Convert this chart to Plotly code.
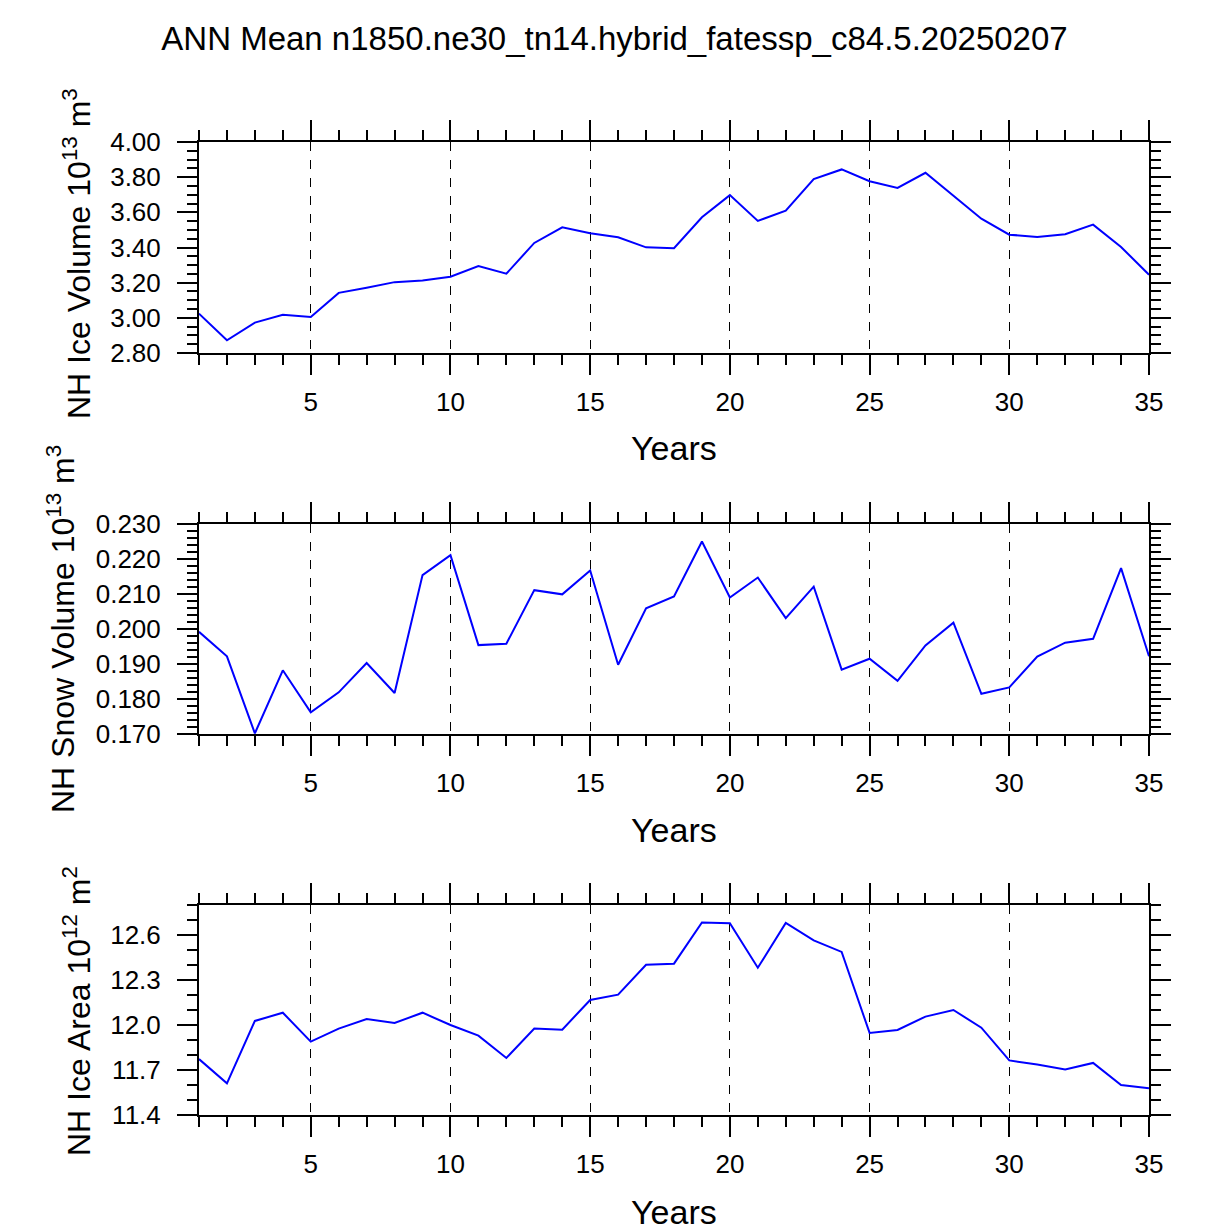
import plotly.graph_objects as go
from plotly.subplots import make_subplots

# data
years = list(range(1, 36))

ice_volume = [3.024, 2.872, 2.973, 3.017, 3.005, 3.142, 3.171, 3.203, 3.213, 3.234,
              3.294, 3.251, 3.426, 3.515, 3.481, 3.458, 3.401, 3.396, 3.572, 3.698,
              3.551, 3.610, 3.789, 3.844, 3.777, 3.739, 3.825, 3.694, 3.564, 3.473,
              3.460, 3.475, 3.530, 3.403, 3.245]

snow_volume = [0.1992, 0.1922, 0.1702, 0.1882, 0.1762, 0.1819, 0.1903, 0.1817, 0.2154, 0.2211,
               0.1954, 0.1958, 0.2111, 0.2099, 0.2167, 0.1898, 0.2059, 0.2093, 0.2250, 0.2090,
               0.2147, 0.2031, 0.2121, 0.1884, 0.1915, 0.1852, 0.1953, 0.2018, 0.1815, 0.1833,
               0.1921, 0.1961, 0.1972, 0.2174, 0.1922]

ice_area = [11.773, 11.611, 12.027, 12.082, 11.889, 11.976, 12.040, 12.013, 12.082, 12.000,
            11.929, 11.780, 11.976, 11.969, 12.167, 12.202, 12.402, 12.409, 12.684, 12.678,
            12.382, 12.680, 12.564, 12.487, 11.947, 11.967, 12.056, 12.100, 11.982, 11.764,
            11.736, 11.704, 11.747, 11.600, 11.578]

x_ticks = [5, 10, 15, 20, 25, 30, 35]
vol_ticks = [2.8, 3.0, 3.2, 3.4, 3.6, 3.8, 4.0]
snow_ticks = [0.17, 0.18, 0.19, 0.20, 0.21, 0.22, 0.23]
area_ticks = [11.4, 11.7, 12.0, 12.3, 12.6]

title = "ANN Mean n1850.ne30_tn14.hybrid_fatessp_c84.5.20250207"
ylabels = ["NH Ice Volume 10<sup>13</sup> m<sup>3</sup>",
           "NH Snow Volume 10<sup>13</sup> m<sup>3</sup>",
           "NH Ice Area 10<sup>12</sup> m<sup>2</sup>"]

# the page body has an 8px margin, so work in window pixels and shift
OFF = 8
W, H = 1227 - OFF, 1229 - OFF
L, R, T, B = 199 - OFF, 78, 142 - OFF, 114
FONT = "Liberation Sans, Arial, Helvetica, sans-serif"


def px_x(px):
    return (px - OFF - L) / (W - L - R)


def px_y(py):
    return 1 - (py - OFF - T) / (H - T - B)


fig = make_subplots(rows=3, cols=1)

series = [ice_volume, snow_volume, ice_area]
for i, vals in enumerate(series):
    fig.add_trace(go.Scatter(x=years, y=vals, mode="lines",
                             line=dict(color="#0000ff", width=2),
                             showlegend=False), row=i + 1, col=1)

# panel positions (window pixel top/bottom of each plot box)
boxes = [(142, 353), (524, 734), (905, 1115)]
yset = [
    dict(range=[2.8, 4.0], tickvals=vol_ticks, tickformat=".2f", minor_dtick=0.05, minor_tick0=2.8),
    dict(range=[0.17, 0.23], tickvals=snow_ticks, tickformat=".3f", minor_dtick=0.002, minor_tick0=0.17),
    dict(range=[11.4, 12.8], tickvals=area_ticks, tickformat=".1f", minor_dtick=0.1, minor_tick0=11.4),
]

axis_common = dict(showline=True, linecolor="black", linewidth=2, mirror="allticks",
                   ticks="outside", ticklen=20, tickwidth=1.5, tickcolor="black",
                   tickfont=dict(family=FONT, size=26, color="black"), zeroline=False)

for i in range(3):
    top, bot = boxes[i]
    fig.update_xaxes(range=[1, 35], tickvals=x_ticks, showgrid=True, gridcolor="black",
                     gridwidth=1, griddash="dash", ticklabelstandoff=5,
                     minor=dict(dtick=1, tick0=1, ticks="outside", ticklen=10,
                                tickwidth=1.5, tickcolor="black", showgrid=False),
                     row=i + 1, col=1, **axis_common)
    ys = yset[i]
    fig.update_yaxes(range=ys["range"], tickvals=ys["tickvals"], tickformat=ys["tickformat"],
                     showgrid=False, ticklabelstandoff=11,
                     domain=[px_y(bot), px_y(top)],
                     minor=dict(dtick=ys["minor_dtick"], tick0=ys["minor_tick0"], ticks="outside",
                                ticklen=10, tickwidth=1.5, tickcolor="black", showgrid=False),
                     row=i + 1, col=1, **axis_common)

# axis titles
years_y = [448, 830, 1212]
ylab_pos = [(77, 254), (61, 629), (77, 1011)]
for i in range(3):
    fig.add_annotation(text="Years", xref="paper", yref="paper", x=0.5, y=px_y(years_y[i]),
                       xanchor="center", yanchor="middle", showarrow=False,
                       font=dict(family=FONT, size=34, color="black"))
    fig.add_annotation(text=ylabels[i], xref="paper", yref="paper",
                       x=px_x(ylab_pos[i][0]), y=px_y(ylab_pos[i][1]), textangle=-90,
                       xanchor="center", yanchor="middle", showarrow=False,
                       font=dict(family=FONT, size=32, color="black"))

fig.update_layout(
    width=W, height=H,
    margin=dict(l=L, r=R, t=T, b=B),
    paper_bgcolor="white", plot_bgcolor="white",
    title=dict(text=title, x=(614.5 - OFF) / W, xref="container", xanchor="center",
               y=1 - (38 - OFF) / H, yanchor="middle",
               font=dict(family=FONT, size=33, color="black")),
)

fig.write_html("out.html")
